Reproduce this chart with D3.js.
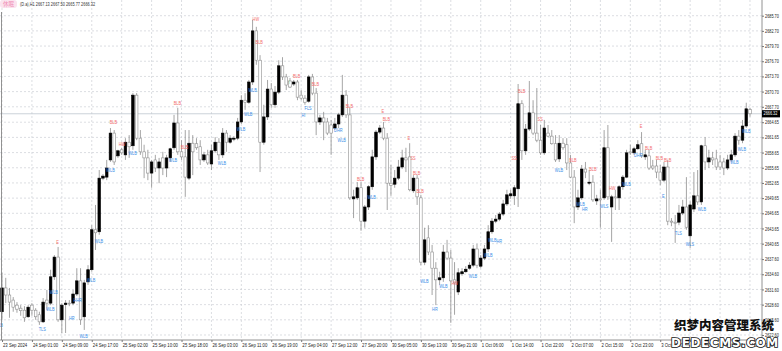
<!DOCTYPE html>
<html><head><meta charset="utf-8">
<script src="https://cdn.jsdelivr.net/npm/d3@7/dist/d3.min.js"></script>
<style>body{margin:0;background:#fff;overflow:hidden}svg{display:block}</style>
</head><body>
<svg id="c" width="782" height="351"></svg>
<script>
const badgeText = "休眠";
const headerText = "(D.a),H1  2667.13 2667.50 2665.77 2666.32";
const lastPrice = 2666.32;
const lastPriceLabel = "2666.32";

const opens = [2627.2,2631.9,2630.5,2629.5,2628.5,2627.9,2627.5,2626.2,2628.5,2627.5,2626.6,2625.2,2629.5,2628.9,2634.1,2638.0,2625.6,2628.6,2628.9,2628.9,
2630.7,2633.3,2626.2,2633.1,2635.5,2643.4,2643.0,2653.6,2653.8,2657.2,2662.5,2658.0,2659.2,2658.2,2660.7,2660.0,2670.0,2661.5,2658.8,2657.6,
2654.6,2657.2,2655.6,2657.6,2655.6,2657.6,2659.6,2664.5,2658.8,2657.8,2653.6,2660.5,2660.4,2659.8,2657.2,2658.2,2656.4,2659.0,2660.7,2658.2,
2662.5,2660.7,2661.3,2661.5,2664.7,2669.0,2668.6,2672.6,2682.7,2676.9,2660.7,2665.7,2671.2,2668.1,2670.6,2675.8,2673.6,2672.8,2672.2,2672.6,
2670.0,2669.4,2668.8,2673.6,2670.4,2664.7,2665.5,2664.7,2664.1,2663.5,2664.3,2666.1,2670.0,2666.1,2649.5,2649.7,2651.7,2645.1,2647.9,2651.9,
2657.8,2662.7,2663.5,2661.5,2652.6,2652.4,2653.6,2655.8,2657.6,2657.8,2651.1,2653.6,2649.7,2637.0,2641.8,2639.0,2635.8,2633.5,2633.9,2639.0,
2637.8,2633.5,2631.1,2634.7,2635.1,2635.8,2636.4,2639.6,2636.2,2637.8,2639.6,2643.0,2645.1,2645.5,2646.5,2648.5,2650.1,2650.1,2651.5,2668.3,
2659.0,2663.3,2666.5,2662.5,2661.1,2658.6,2662.5,2661.9,2660.4,2657.4,2660.5,2660.2,2656.6,2653.8,2647.9,2649.7,2655.4,2652.6,2652.8,2649.1,
2649.5,2649.7,2659.6,2647.9,2649.9,2649.7,2651.9,2653.8,2658.8,2658.6,2659.4,2660.4,2657.8,2658.0,2656.0,2656.0,2654.8,2653.2,2655.8,2645.1,
2644.9,2644.9,2646.7,2647.9,2642.2,2647.5,2650.1,2648.9,2660.0,2656.8,2657.6,2657.4,2656.8,2656.8,2655.6,2657.2,2658.2,2661.9,2661.1,2663.9,
2667.13];
const highs = [2634.9,2633.9,2631.9,2630.1,2629.1,2628.5,2628.3,2628.5,2628.9,2627.9,2627.2,2629.9,2631.5,2635.5,2638.4,2640.0,2628.9,2629.5,2629.5,2631.5,
2635.8,2635.8,2633.5,2636.4,2644.3,2648.3,2655.2,2654.4,2657.2,2663.5,2663.1,2659.2,2659.6,2661.5,2662.1,2670.4,2670.4,2663.1,2660.2,2659.2,
2657.2,2658.2,2657.6,2658.8,2658.2,2659.6,2666.1,2667.5,2661.1,2663.1,2663.1,2662.1,2661.5,2661.1,2658.8,2659.2,2660.2,2661.7,2661.5,2663.5,
2663.1,2662.1,2661.9,2665.5,2670.0,2670.4,2673.0,2684.9,2683.5,2677.9,2668.1,2673.0,2672.4,2671.8,2676.9,2677.5,2674.2,2673.4,2673.0,2673.0,
2671.0,2670.0,2674.0,2674.2,2671.4,2666.1,2666.7,2665.5,2665.1,2665.5,2666.5,2674.0,2671.0,2667.5,2651.3,2652.8,2652.8,2648.3,2652.2,2659.2,
2663.1,2664.1,2664.7,2662.5,2656.2,2655.2,2657.2,2659.2,2659.6,2660.5,2654.2,2654.2,2650.3,2643.8,2644.3,2640.4,2637.0,2635.1,2640.4,2641.4,
2639.4,2637.0,2635.8,2635.8,2636.2,2637.0,2640.4,2640.6,2638.4,2640.4,2644.3,2645.7,2646.3,2646.9,2649.3,2651.3,2651.3,2652.2,2672.2,2669.0,
2664.3,2672.8,2669.0,2671.4,2664.1,2665.1,2664.1,2663.1,2662.1,2662.1,2661.5,2661.5,2658.2,2655.2,2651.3,2656.2,2656.8,2655.2,2654.2,2650.3,
2651.3,2663.1,2664.1,2650.3,2651.3,2652.2,2654.2,2659.2,2660.2,2659.8,2661.1,2662.7,2659.2,2659.2,2657.2,2657.2,2656.2,2656.8,2657.2,2645.7,
2646.3,2648.3,2649.3,2653.8,2649.0,2654.8,2655.2,2660.2,2661.7,2659.2,2658.8,2659.2,2658.2,2657.6,2658.2,2659.2,2662.5,2663.1,2665.1,2668.5,
2667.50];
const lows = [2625.6,2628.9,2626.0,2627.2,2627.0,2626.4,2625.2,2626.0,2626.4,2625.6,2624.6,2625.0,2627.5,2628.5,2633.5,2625.2,2623.0,2623.0,2628.3,2628.5,
2630.3,2624.6,2623.6,2632.5,2635.1,2639.4,2642.4,2653.2,2653.2,2656.8,2656.2,2657.6,2658.2,2657.2,2657.6,2659.2,2661.1,2658.2,2653.6,2653.2,
2651.7,2654.8,2652.6,2654.2,2653.8,2656.8,2659.2,2658.2,2657.2,2649.9,2653.2,2654.2,2659.2,2656.2,2656.8,2656.2,2655.2,2658.6,2657.2,2657.6,
2658.8,2660.4,2660.9,2661.1,2664.3,2667.1,2668.3,2672.0,2676.0,2654.8,2660.2,2665.1,2667.5,2667.5,2670.2,2673.0,2671.0,2671.4,2671.8,2669.0,
2669.0,2668.1,2668.5,2670.0,2662.1,2664.1,2661.1,2662.1,2658.2,2663.1,2663.5,2665.7,2665.5,2649.3,2645.7,2649.3,2643.2,2643.8,2647.3,2651.3,
2657.2,2662.3,2661.1,2647.3,2650.1,2651.7,2653.2,2655.4,2654.8,2651.0,2650.7,2648.3,2636.4,2636.4,2638.4,2630.5,2628.5,2632.5,2633.1,2637.4,
2625.0,2626.6,2630.5,2634.3,2634.9,2635.5,2636.0,2635.8,2635.8,2637.4,2639.0,2642.6,2644.7,2645.1,2646.1,2648.1,2649.5,2648.3,2647.9,2657.2,
2658.2,2662.9,2662.1,2660.7,2658.2,2658.2,2661.7,2660.2,2656.8,2656.8,2659.2,2655.2,2653.6,2644.7,2647.3,2649.3,2653.6,2652.2,2648.9,2648.3,
2643.8,2649.3,2649.3,2641.0,2647.3,2647.3,2651.3,2653.6,2658.2,2658.2,2659.2,2657.6,2657.2,2655.2,2655.2,2653.6,2652.2,2652.8,2644.3,2644.1,
2640.8,2644.3,2646.3,2643.4,2639.8,2646.9,2648.3,2648.3,2655.2,2655.6,2656.2,2655.2,2655.2,2654.2,2655.2,2656.8,2657.8,2660.2,2660.5,2663.5,
2665.77];
const closes = [2631.9,2630.5,2629.1,2628.1,2627.7,2627.4,2626.0,2628.1,2627.5,2626.2,2625.2,2629.1,2628.9,2634.1,2638.0,2625.6,2628.5,2628.9,2628.8,2630.7,
2633.3,2625.6,2632.9,2635.5,2643.4,2642.8,2653.6,2654.0,2655.6,2662.5,2656.8,2659.0,2658.6,2660.7,2659.8,2670.0,2661.5,2658.8,2657.6,2654.6,
2656.8,2655.6,2656.8,2655.6,2657.6,2659.4,2664.5,2658.8,2657.8,2653.8,2660.5,2658.8,2659.6,2657.2,2658.2,2656.6,2659.0,2660.7,2658.2,2662.5,
2660.7,2661.5,2661.5,2664.7,2669.0,2668.6,2672.6,2682.7,2676.9,2660.7,2665.7,2671.2,2668.1,2670.6,2675.8,2673.6,2672.0,2671.6,2672.6,2669.6,
2669.4,2668.6,2673.6,2670.4,2664.7,2665.5,2664.7,2662.5,2662.5,2664.3,2666.1,2670.0,2666.1,2649.7,2649.9,2651.7,2645.1,2647.9,2651.9,2657.8,
2662.7,2663.5,2661.5,2652.6,2652.2,2653.6,2655.8,2657.6,2657.2,2651.3,2653.6,2649.9,2637.0,2641.4,2639.0,2635.8,2633.5,2633.9,2639.0,2637.8,
2633.3,2632.9,2634.9,2635.1,2635.6,2636.4,2639.6,2636.4,2637.8,2639.6,2643.0,2645.1,2645.5,2646.5,2648.5,2650.3,2650.5,2651.7,2668.3,2659.0,
2663.3,2666.5,2662.5,2661.1,2658.6,2663.5,2661.9,2660.4,2657.2,2660.5,2659.6,2656.6,2653.8,2647.9,2649.7,2655.4,2654.8,2652.8,2649.3,2649.5,
2649.3,2659.6,2649.9,2649.9,2649.7,2651.9,2653.8,2658.6,2658.6,2659.4,2660.2,2658.0,2658.2,2655.6,2655.6,2654.8,2653.2,2655.8,2645.1,2644.9,
2644.7,2646.7,2647.9,2643.9,2648.3,2650.1,2648.9,2660.0,2656.8,2657.6,2657.2,2655.8,2655.8,2655.6,2657.2,2658.2,2661.9,2661.1,2663.9,2667.3,
2666.32];

const timeLabels = ["23 Sep 2024","24 Sep 01:00","24 Sep 09:00","24 Sep 17:00","25 Sep 02:00","25 Sep 10:00","25 Sep 18:00","26 Sep 03:00","26 Sep 11:00","26 Sep 19:00","27 Sep 04:00","27 Sep 12:00","27 Sep 20:00","30 Sep 05:00","30 Sep 13:00","30 Sep 21:00","1 Oct 06:00","1 Oct 14:00","1 Oct 22:00","2 Oct 07:00","2 Oct 15:00","2 Oct 23:00","3 Oct 08:00","3 Oct 16:00","4 Oct 01:00","4 Oct 09:00"];
const barsPerLabel = 8;
const priceTicks = ["2685.70","2682.70","2679.70","2676.70","2673.70","2670.70","2667.70","2664.65","2661.65","2658.65","2655.65","2652.65","2649.65","2646.65","2643.65","2640.65","2637.60","2634.60","2631.60","2628.60","2625.60","2622.60"];

const redText  = ["HW","BLB","BLB","BLB","BLB","BLB","HW","BLB","BLB","BLB","E","BLB","E","SS","BLB","BLB","HW","SS","BLB","SS","BLB","BLB","HW","E","BLB","BLB","BLB","E"];
const redBar   = [67.0,67.8,77.8,82.8,45.9,28.8,31.2,47.8,91.9,94.9,101.5,101.8,108.4,109.2,109.9,110.8,120.2,136.2,138.0,143.2,151.7,157.0,162.3,170.5,171.9,174.8,177.0,14.5];
const redPrice = [2685.05,2680.5,2673.8,2672.2,2668.45,2664.7,2660.35,2659.75,2667.85,2653.4,2666.9,2665.3,2661.5,2657.6,2654.6,2651.1,2632.9,2657.6,2670.8,2665.3,2657.2,2655.4,2651.65,2663.9,2659.55,2657.6,2657.2,2641.0];

const blueText  = ["WLB","TLS","WLB","WLB","HHR","HR","WLB","WLB","WLB","WLB","WLB","WLB","WLB","WLB","WLB","WLB","FLS","HI","DHR","WLB","WLB","WLB","WLB","HR","WLB","WLB","WLB","HR","WLB","WLB","HR","WLS","WLB","DHR","E","TLS","WLS","WLB","WLB","WLB","WLB"];
const blueBar   = [-2.0,9.8,11.8,12.7,19.1,17.9,20.7,22.7,24.8,27.9,33.8,44.6,57.7,62.8,64.7,65.9,80.9,80.1,88.8,89.7,97.7,111.8,116.9,115.0,124.8,128.9,130.0,132.2,147.8,153.6,155.1,159.9,165.9,169.0,176.5,179.9,182.8,186.0,194.7,196.7,197.9];
const bluePrice = [2624.6,2623.8,2627.7,2631.1,2629.5,2626.0,2622.4,2633.5,2641.2,2655.2,2658.6,2657.2,2656.6,2663.3,2666.3,2671.0,2667.45,2666.1,2663.1,2661.1,2649.9,2633.3,2632.3,2627.7,2634.3,2638.4,2641.4,2641.2,2655.2,2648.5,2647.5,2648.1,2652.4,2658.2,2650.1,2642.8,2640.6,2647.5,2656.8,2659.4,2662.9];

const markText = ["I"], markBar = [76.7], markPrice = [2672.6];

const wmLine1 = "织梦内容管理系统";
const wmLine2 = "DEDECMS.COM";

// ---------- drawing ----------
const W = 782, H = 351, axisX = 762, axisY = 340;
const svg = d3.select("#c");
const x = d3.scaleLinear().domain([0, 200]).range([2, 750]);
const y = d3.scaleLinear().domain([2622.60, 2685.70]).range([335, 15.7]);
const FONT = "'Liberation Sans', Arial, sans-serif";

function squeeze(sel, w){ sel.each(function(){ const L=this.getComputedTextLength(); if(L>0){ this.setAttribute("textLength", L*w); this.setAttribute("lengthAdjust","spacingAndGlyphs"); } }); }

svg.append("rect").attr("width",W).attr("height",H).attr("fill","#fff");

// grid
const gridG = svg.append("g");
const labelBars = timeLabels.map((d,i)=>i*barsPerLabel);
gridG.selectAll("line.v").data(labelBars).join("line")
  .attr("x1",d=>x(d)).attr("x2",d=>x(d)).attr("y1",0).attr("y2",axisY)
  .attr("stroke","#cdd0d6").attr("stroke-width",0.7).attr("stroke-dasharray","2,2");
gridG.selectAll("line.h").data(priceTicks.map(Number)).join("line")
  .attr("x1",0).attr("x2",axisX).attr("y1",d=>y(d)).attr("y2",d=>y(d))
  .attr("stroke","#cdd0d6").attr("stroke-width",0.7).attr("stroke-dasharray","2,2");

// bid line
svg.append("line").attr("x1",0).attr("x2",axisX).attr("y1",y(lastPrice)).attr("y2",y(lastPrice))
  .attr("stroke","#bfc6cf").attr("stroke-width",0.8);

// candles
const idx = d3.range(opens.length);
const cg = svg.append("g");
cg.selectAll("line").data(idx).join("line")
  .attr("x1",i=>x(i)).attr("x2",i=>x(i)).attr("y1",i=>y(highs[i])).attr("y2",i=>y(lows[i]))
  .attr("stroke","#8e8e8e").attr("stroke-width",0.8);
const bw = 2.6;
cg.selectAll("rect").data(idx).join("rect")
  .attr("x",i=>x(i)-bw/2).attr("width",bw)
  .attr("y",i=>Math.min(y(opens[i]),y(closes[i])))
  .attr("height",i=>Math.max(0.8,Math.abs(y(opens[i])-y(closes[i]))))
  .attr("fill",i=>closes[i]>=opens[i]?"#000":"#fff")
  .attr("stroke",i=>closes[i]>=opens[i]?"#000":"#8e8e8e")
  .attr("stroke-width",0.6);

// annotations
function ann(texts, bars, prices, color){
  const g = svg.append("g");
  const t = g.selectAll("text").data(texts).join("text")
    .attr("x",(d,i)=>x(bars[i])).attr("y",(d,i)=>y(prices[i]))
    .attr("dy","0.35em").attr("font-family",FONT).attr("font-size",5.4)
    .attr("fill",color).text(d=>d);
  squeeze(t,0.72);
}
ann(redText, redBar, redPrice, "#f26d6d");
ann(blueText, blueBar, bluePrice, "#3a8ee8");
ann(markText, markBar, markPrice, "#7fd47f");

// axes frame
svg.append("line").attr("x1",1.5).attr("x2",1.5).attr("y1",12).attr("y2",axisY).attr("stroke","#777").attr("stroke-width",0.8);
svg.append("line").attr("x1",axisX).attr("x2",axisX).attr("y1",0).attr("y2",axisY).attr("stroke","#777").attr("stroke-width",0.8);
svg.append("line").attr("x1",0).attr("x2",axisX).attr("y1",axisY).attr("y2",axisY).attr("stroke","#777").attr("stroke-width",0.8);

// price axis
const yAxis = d3.axisRight(y).tickValues(priceTicks.map(Number)).tickFormat((d,i)=>priceTicks[i]).tickSize(2).tickPadding(1);
const ya = svg.append("g").attr("transform",`translate(${axisX},0)`).call(yAxis);
ya.select(".domain").remove();
ya.selectAll("line").attr("stroke","#777");
ya.selectAll("text").attr("font-family",FONT).attr("font-size",4.8).attr("fill","#222");
squeeze(ya.selectAll("text"),0.8);

// time axis
const xAxis = d3.axisBottom(x).tickValues(labelBars).tickFormat((d,i)=>timeLabels[i]).tickSize(2).tickPadding(1.5);
const xa = svg.append("g").attr("transform",`translate(0,${axisY})`).call(xAxis);
xa.select(".domain").remove();
xa.selectAll("line").attr("stroke","#777");
xa.selectAll("text").attr("font-family",FONT).attr("font-size",5.2).attr("fill","#222").attr("text-anchor","start").attr("dx",0.5);
squeeze(xa.selectAll("text"),0.82);

// last price tag
const tagY = y(lastPrice);
svg.append("rect").attr("x",axisX).attr("y",tagY-3.6).attr("width",18).attr("height",7.2).attr("fill","#000");
const tt = svg.append("text").attr("x",axisX+1.5).attr("y",tagY).attr("dy","0.35em").attr("font-family",FONT)
  .attr("font-size",4.8).attr("fill","#fff").text(lastPriceLabel);
squeeze(tt,0.8);

// header
svg.append("rect").attr("x",0).attr("y",0).attr("width",17).attr("height",8).attr("rx",3).attr("fill","#fbe3ee");
svg.append("text").attr("x",8.5).attr("y",6).attr("text-anchor","middle").attr("font-family","'Noto Sans CJK SC'").attr("font-size",5.5).attr("fill","#f08cb4").text(badgeText);
const ht = svg.append("text").attr("x",20).attr("y",6).attr("font-family",FONT).attr("font-size",5.4).attr("fill","#333").text(headerText);
squeeze(ht,0.72);

// watermark
svg.append("text").attr("x",724).attr("y",330).attr("text-anchor","middle").attr("font-family","'Noto Sans CJK SC'").attr("font-weight",900)
  .attr("font-size",12.5).attr("fill","#111").attr("stroke","#fff").attr("stroke-width",0.8).attr("paint-order","stroke").text(wmLine1);
svg.append("text").attr("x",725).attr("y",347).attr("text-anchor","middle").attr("font-family","'DejaVu Sans'").attr("font-weight",700)
  .attr("font-size",12).attr("letter-spacing",0.6).attr("fill","#fff").attr("stroke","#111").attr("stroke-width",1.6).attr("paint-order","stroke").text(wmLine2);
</script>
</body></html>
